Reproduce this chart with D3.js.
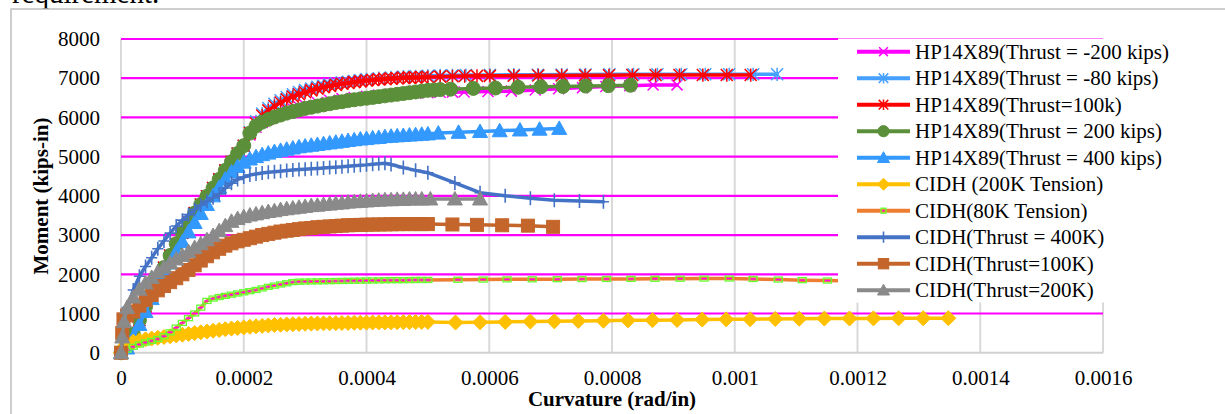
<!DOCTYPE html>
<html>
<head>
<meta charset="utf-8">
<script src="https://cdn.jsdelivr.net/npm/d3@7"></script>
<style>
  body { margin: 0; background: #fff; }
  svg { display: block; font-family: "Liberation Serif", "Times New Roman", serif; }
</style>
</head>
<body>
<svg id="chart" width="1225" height="414"></svg>
<script>
// ---------- data (curvature rad/in, moment kips-in) ----------
const xTicks = [0, 0.0002, 0.0004, 0.0006, 0.0008, 0.001, 0.0012, 0.0014, 0.0016];
const xTickLabels = ["0", "0.0002", "0.0004", "0.0006", "0.0008", "0.001", "0.0012", "0.0014", "0.0016"];
const yTicks = [0, 1000, 2000, 3000, 4000, 5000, 6000, 7000, 8000];

const seriesNames = [
  "HP14X89(Thrust = -200 kips)",
  "HP14X89(Thrust = -80 kips)",
  "HP14X89(Thrust=100k)",
  "HP14X89(Thrust = 200 kips)",
  "HP14X89(Thrust = 400 kips)",
  "CIDH (200K Tension)",
  "CIDH(80K Tension)",
  "CIDH(Thrust = 400K)",
  "CIDH(Thrust=100K)",
  "CIDH(Thrust=200K)"
];

// elastic branch shared by the HP14X89 runs
const hpElastic = [[0,0],[1e-5,150],[2e-5,480],[3e-5,830],[4e-5,1180],[5e-5,1520],[6e-5,1850],
  [7e-5,2170],[8e-5,2480],[9e-5,2780],[1e-4,3060],[1.1e-4,3320],[1.2e-4,3560],[1.3e-4,3780],
  [1.4e-4,3990],[1.5e-4,4200],[1.6e-4,4420],[1.7e-4,4650],[1.8e-4,4870],[1.9e-4,5080],[2e-4,5280]];

const hpNeg200 = [...hpElastic,
  [2.1e-4,5550],[2.2e-4,5750],[2.3e-4,5870],[2.4e-4,5960],[2.5e-4,6040],[2.6e-4,6110],[2.7e-4,6170],
  [2.8e-4,6220],[2.9e-4,6270],[3e-4,6310],[3.2e-4,6380],[3.4e-4,6440],[3.6e-4,6480],[3.8e-4,6510],
  [4e-4,6540],[4.2e-4,6570],[4.4e-4,6590],[4.6e-4,6610],[4.8e-4,6620],[5e-4,6630],[5.2e-4,6640],
  [5.4e-4,6645],[5.59e-4,6650],[5.98e-4,6660],[6.36e-4,6670],[6.75e-4,6700],[7.13e-4,6730],
  [7.52e-4,6760],[7.9e-4,6790],[8.29e-4,6810],[8.67e-4,6825],[9.06e-4,6830]];

const hpNeg80 = [...hpElastic,
  [2.1e-4,5620],[2.2e-4,5900],[2.3e-4,6100],[2.4e-4,6240],[2.5e-4,6350],[2.6e-4,6440],[2.7e-4,6520],
  [2.8e-4,6590],[2.9e-4,6650],[3e-4,6700],[3.1e-4,6740],[3.2e-4,6780],[3.3e-4,6810],[3.4e-4,6840],
  [3.5e-4,6870],[3.6e-4,6890],[3.7e-4,6910],[3.8e-4,6930],[3.9e-4,6950],[4e-4,6970],[4.2e-4,7000],
  [4.4e-4,7020],[4.6e-4,7040],[4.8e-4,7050],[5e-4,7060],[5.2e-4,7070],[5.4e-4,7075],[5.62e-4,7080],
  [6.01e-4,7085],[6.4e-4,7090],[6.79e-4,7090],[7.18e-4,7095],[7.57e-4,7095],[7.96e-4,7100],
  [8.35e-4,7100],[8.74e-4,7100],[9.13e-4,7100],[9.52e-4,7100],[9.91e-4,7100],[1.03e-3,7100],[1.069e-3,7100]];

const hp100 = [...hpElastic,
  [2.1e-4,5600],[2.2e-4,5850],[2.3e-4,6050],[2.4e-4,6180],[2.5e-4,6290],[2.6e-4,6380],[2.7e-4,6460],
  [2.8e-4,6530],[2.9e-4,6590],[3e-4,6640],[3.1e-4,6690],[3.2e-4,6730],[3.3e-4,6770],[3.4e-4,6800],
  [3.5e-4,6830],[3.6e-4,6860],[3.7e-4,6880],[3.8e-4,6900],[3.9e-4,6920],[4e-4,6940],[4.1e-4,6955],
  [4.2e-4,6970],[4.3e-4,6980],[4.4e-4,6990],[4.5e-4,7000],[4.6e-4,7010],[4.7e-4,7015],[4.8e-4,7020],
  [4.9e-4,7025],[5e-4,7030],[5.2e-4,7040],[5.4e-4,7050],[5.6e-4,7055],
  [5.8e-4,7060],[6.01e-4,7060],[6.4e-4,7065],[6.8e-4,7070],[7.18e-4,7070],[7.56e-4,7075],[7.95e-4,7075],
  [8.33e-4,7080],[8.71e-4,7080],[9.1e-4,7080],[9.48e-4,7080],[9.87e-4,7080],[1.026e-3,7080]];

const hp200 = [...hpElastic,
  [2.1e-4,5600],[2.2e-4,5780],[2.3e-4,5880],[2.4e-4,5950],[2.5e-4,6010],[2.6e-4,6060],[2.7e-4,6110],
  [2.8e-4,6150],[2.9e-4,6190],[3e-4,6230],[3.1e-4,6260],[3.2e-4,6290],[3.3e-4,6320],[3.4e-4,6350],
  [3.5e-4,6380],[3.6e-4,6400],[3.7e-4,6430],[3.8e-4,6450],[3.9e-4,6470],[4e-4,6490],[4.1e-4,6510],
  [4.2e-4,6530],[4.3e-4,6550],[4.4e-4,6570],[4.5e-4,6590],[4.6e-4,6610],[4.7e-4,6630],[4.8e-4,6650],
  [4.9e-4,6670],[5e-4,6690],[5.1e-4,6700],[5.2e-4,6710],[5.37e-4,6720],[5.74e-4,6740],[6.1e-4,6750],
  [6.47e-4,6770],[6.84e-4,6780],[7.2e-4,6790],[7.57e-4,6800],[7.94e-4,6810],[8.3e-4,6820]];

const hp400 = [[0,0],[1e-5,120],[2e-5,400],[3e-5,720],[4e-5,1050],[5e-5,1380],[6e-5,1700],[7e-5,2000],
  [8e-5,2290],[9e-5,2570],[1e-4,2830],[1.1e-4,3080],[1.2e-4,3320],[1.3e-4,3550],[1.4e-4,3780],
  [1.5e-4,4000],[1.6e-4,4220],[1.7e-4,4430],[1.8e-4,4610],[1.9e-4,4750],[2e-4,4860],[2.1e-4,4940],
  [2.2e-4,5000],[2.3e-4,5050],[2.4e-4,5090],[2.5e-4,5130],[2.6e-4,5160],[2.7e-4,5190],[2.8e-4,5220],
  [2.9e-4,5250],[3e-4,5270],[3.1e-4,5290],[3.2e-4,5310],[3.3e-4,5330],[3.4e-4,5350],[3.5e-4,5370],
  [3.6e-4,5390],[3.7e-4,5410],[3.8e-4,5430],[3.9e-4,5450],[4e-4,5460],[4.1e-4,5480],[4.2e-4,5490],
  [4.3e-4,5510],[4.4e-4,5520],[4.5e-4,5530],[4.6e-4,5540],[4.7e-4,5550],[4.8e-4,5560],[4.9e-4,5570],
  [5e-4,5580],[5.17e-4,5600],[5.5e-4,5620],[5.85e-4,5640],[6.17e-4,5660],[6.5e-4,5680],[6.82e-4,5700],
  [7.14e-4,5720]];

const cidhTen200 = [[0,0],[5e-6,150],[1e-5,230],[2e-5,280],[3e-5,310],[4e-5,340],[5e-5,360],[6e-5,380],
  [7e-5,400],[8e-5,420],[9e-5,440],[1e-4,460],[1.1e-4,480],[1.2e-4,500],[1.3e-4,520],[1.4e-4,540],
  [1.5e-4,560],[1.6e-4,580],[1.7e-4,600],[1.8e-4,615],[1.9e-4,630],[2e-4,645],[2.1e-4,660],[2.2e-4,672],
  [2.3e-4,684],[2.4e-4,695],[2.5e-4,705],[2.6e-4,712],[2.7e-4,720],[2.8e-4,726],[2.9e-4,732],[3e-4,738],
  [3.1e-4,742],[3.2e-4,745],[3.3e-4,748],[3.4e-4,751],[3.5e-4,754],[3.6e-4,757],[3.7e-4,760],[3.8e-4,762],
  [3.9e-4,765],[4e-4,767],[4.1e-4,769],[4.2e-4,771],[4.3e-4,773],[4.4e-4,775],[4.5e-4,777],[4.6e-4,779],
  [4.7e-4,780],[4.8e-4,782],[4.9e-4,784],[5e-4,786],[5.45e-4,770],[5.85e-4,775],[6.26e-4,785],
  [6.67e-4,795],[7.06e-4,800],[7.45e-4,810],[7.86e-4,815],[8.26e-4,825],[8.66e-4,830],[9.06e-4,835],
  [9.47e-4,845],[9.86e-4,850],[1.025e-3,855],[1.066e-3,860],[1.105e-3,865],[1.146e-3,870],[1.187e-3,872],
  [1.226e-3,875],[1.267e-3,877],[1.307e-3,878],[1.348e-3,880]];

const cidhTen80 = [[0,0],[1e-5,80],[2e-5,150],[3e-5,210],[4e-5,260],[5e-5,300],[6e-5,350],[7e-5,420],
  [8e-5,520],[9e-5,640],[1e-4,760],[1.1e-4,880],[1.2e-4,1000],[1.3e-4,1150],[1.4e-4,1320],[1.5e-4,1380],
  [1.6e-4,1420],[1.7e-4,1450],[1.8e-4,1480],[1.9e-4,1510],[2e-4,1540],[2.1e-4,1570],[2.2e-4,1600],
  [2.3e-4,1640],[2.4e-4,1680],[2.5e-4,1710],[2.6e-4,1740],[2.7e-4,1770],[2.8e-4,1800],[2.9e-4,1810],
  [3e-4,1815],[3.1e-4,1818],[3.2e-4,1820],[3.3e-4,1822],[3.4e-4,1825],[3.5e-4,1828],[3.6e-4,1830],
  [3.7e-4,1832],[3.8e-4,1835],[3.9e-4,1838],[4e-4,1840],[4.1e-4,1842],[4.2e-4,1845],[4.3e-4,1848],
  [4.4e-4,1850],[4.5e-4,1850],[4.6e-4,1850],[4.7e-4,1852],[4.8e-4,1855],[4.9e-4,1855],
  [5e-4,1855],[5.49e-4,1860],[5.9e-4,1865],[6.29e-4,1870],
  [6.7e-4,1872],[7.11e-4,1875],[7.51e-4,1878],[7.91e-4,1880],[8.31e-4,1882],[8.7e-4,1885],[9.11e-4,1887],
  [9.5e-4,1890],[9.91e-4,1892],[1.03e-3,1880],[1.071e-3,1865],[1.11e-3,1850],[1.151e-3,1840],[1.19e-3,1830]];

const cidh400 = [[0,0],[5e-6,700],[1e-5,1150],[2e-5,1600],[3e-5,1950],[4e-5,2200],[5e-5,2420],[6e-5,2650],
  [7e-5,2850],[8e-5,3050],[9e-5,3230],[1e-4,3380],[1.1e-4,3520],[1.2e-4,3650],[1.3e-4,3760],[1.4e-4,3860],
  [1.5e-4,3950],[1.6e-4,4050],[1.7e-4,4200],[1.8e-4,4320],[1.9e-4,4420],[2e-4,4480],[2.1e-4,4530],
  [2.2e-4,4560],[2.3e-4,4580],[2.4e-4,4600],[2.5e-4,4615],[2.6e-4,4630],[2.7e-4,4645],[2.8e-4,4660],
  [2.9e-4,4670],[3e-4,4680],[3.1e-4,4690],[3.2e-4,4700],[3.3e-4,4710],[3.4e-4,4720],[3.5e-4,4730],
  [3.6e-4,4740],[3.7e-4,4755],[3.8e-4,4770],[3.9e-4,4780],[4e-4,4790],[4.1e-4,4805],[4.2e-4,4820],
  [4.3e-4,4830],[4.4e-4,4800],[4.6e-4,4720],[4.8e-4,4650],[5e-4,4590],[5.44e-4,4330],[5.85e-4,4080],
  [6.26e-4,4000],[6.67e-4,3940],[7.06e-4,3890],[7.47e-4,3870],[7.86e-4,3850]];

const cidh100 = [[0,0],[2e-6,500],[4e-6,850],[1e-5,950],[2e-5,1050],[3e-5,1200],[4e-5,1340],[5e-5,1470],
  [6e-5,1590],[7e-5,1700],[8e-5,1800],[9e-5,1900],[1e-4,2000],[1.1e-4,2110],[1.2e-4,2230],[1.3e-4,2350],
  [1.4e-4,2460],[1.5e-4,2560],[1.6e-4,2650],[1.7e-4,2730],[1.8e-4,2790],[1.9e-4,2840],[2e-4,2880],
  [2.1e-4,2920],[2.2e-4,2960],[2.3e-4,3000],[2.4e-4,3030],[2.5e-4,3060],[2.6e-4,3090],[2.7e-4,3110],
  [2.8e-4,3130],[2.9e-4,3150],[3e-4,3170],[3.1e-4,3180],[3.2e-4,3200],[3.3e-4,3210],[3.4e-4,3220],
  [3.5e-4,3230],[3.6e-4,3240],[3.7e-4,3250],[3.8e-4,3255],[3.9e-4,3260],[4e-4,3265],[4.1e-4,3268],
  [4.2e-4,3270],[4.3e-4,3272],[4.4e-4,3275],[4.5e-4,3278],[4.6e-4,3280],[4.7e-4,3280],[4.8e-4,3280],
  [4.9e-4,3280],[5e-4,3280],[5.4e-4,3270],[5.8e-4,3260],[6.21e-4,3250],
  [6.63e-4,3240],[7.04e-4,3210]];

const cidh200 = [[0,0],[2e-6,400],[5e-6,800],[1e-5,1150],[2e-5,1420],[3e-5,1620],[4e-5,1780],[5e-5,1920],
  [6e-5,2060],[7e-5,2180],[8e-5,2290],[9e-5,2390],[1e-4,2480],[1.1e-4,2580],[1.2e-4,2680],[1.3e-4,2780],
  [1.4e-4,2880],[1.5e-4,2990],[1.6e-4,3110],[1.7e-4,3240],[1.8e-4,3350],[1.9e-4,3420],[2e-4,3470],
  [2.1e-4,3510],[2.2e-4,3540],[2.3e-4,3570],[2.4e-4,3600],[2.5e-4,3620],[2.6e-4,3650],[2.7e-4,3670],
  [2.8e-4,3690],[2.9e-4,3710],[3e-4,3730],[3.1e-4,3750],[3.2e-4,3760],[3.3e-4,3780],[3.4e-4,3790],
  [3.5e-4,3810],[3.6e-4,3820],[3.7e-4,3840],[3.8e-4,3850],[3.9e-4,3860],[4e-4,3870],[4.1e-4,3880],
  [4.2e-4,3890],[4.3e-4,3900],[4.4e-4,3900],[4.5e-4,3910],[4.6e-4,3910],[4.7e-4,3920],[4.8e-4,3920],
  [4.9e-4,3920],[5.04e-4,3920],[5.44e-4,3920],[5.85e-4,3920]];

const seriesData = [hpNeg200, hpNeg80, hp100, hp200, hp400, cidhTen200, cidhTen80, cidh400, cidh100, cidh200];

// ---------- styles ----------
const seriesStyle = [
  { color: "#FF00FF", marker: "x",        size: 5.5 },
  { color: "#45A0FF", marker: "star",     size: 6 },
  { color: "#FF0000", marker: "star",     size: 6 },
  { color: "#5B8F3A", marker: "circle",   size: 7 },
  { color: "#3399FF", marker: "triangle", size: 7.5 },
  { color: "#FFC000", marker: "diamond",  size: 7.5 },
  { color: "#ED7D31", marker: "dash",     size: 4 },
  { color: "#4472C4", marker: "plus",     size: 7 },
  { color: "#C4662C", marker: "square",   size: 6.5 },
  { color: "#8A8A8A", marker: "triangle", size: 7.5 }
];

const svg = d3.select("#chart");

// page text cut off above the chart + chart frame
svg.append("text").attr("x", 12).attr("y", 3).attr("font-size", 29).attr("fill", "#000")
  .text("requirement.");
svg.append("path").attr("d", "M11,414V9H1225").attr("fill", "none")
  .attr("stroke", "#BFBFBF").attr("stroke-width", 1.5);

const x = d3.scaleLinear().domain([0, 0.0016]).range([121, 1103]);
const y = d3.scaleLinear().domain([0, 8000]).range([352.7, 39]);

// gridlines
svg.append("g").selectAll("line").data(xTicks).enter().append("line")
  .attr("x1", d => x(d)).attr("x2", d => x(d))
  .attr("y1", y(0)).attr("y2", y(8000))
  .attr("stroke", "#D9D9D9").attr("stroke-width", 2);
svg.append("g").selectAll("line").data(yTicks.filter(d => d > 0)).enter().append("line")
  .attr("x1", x(0)).attr("x2", x(0.0016))
  .attr("y1", d => y(d)).attr("y2", d => y(d))
  .attr("stroke", "#FF00FF").attr("stroke-width", 2.2);
svg.append("line").attr("x1", x(0)).attr("x2", x(0.0016)).attr("y1", y(0)).attr("y2", y(0))
  .attr("stroke", "#D0D0D0").attr("stroke-width", 2);

// axes
const xAxis = svg.append("g").attr("transform", `translate(0,${y(0)})`)
  .call(d3.axisBottom(x).tickValues(xTicks).tickSize(0).tickPadding(17)
    .tickFormat((d, i) => xTickLabels[i]));
const yAxis = svg.append("g").attr("transform", `translate(${x(0)},0)`)
  .call(d3.axisLeft(y).tickValues(yTicks).tickSize(0).tickPadding(21).tickFormat(d => d));
[xAxis, yAxis].forEach(a => {
  a.select(".domain").remove();
  a.selectAll("text").attr("font-size", 21).attr("fill", "#000")
    .attr("font-family", '"Liberation Serif", serif');
});

svg.append("text").attr("x", 612).attr("y", 406).attr("text-anchor", "middle")
  .attr("font-size", 21).attr("font-weight", "bold").text("Curvature (rad/in)");
svg.append("text").attr("transform", "translate(48,196) rotate(-90)").attr("text-anchor", "middle")
  .attr("font-size", 21).attr("font-weight", "bold").text("Moment (kips-in)");

// markers
function drawMarker(g, type, s, color) {
  if (type === "circle") {
    g.append("circle").attr("r", s).attr("fill", color).attr("stroke", color);
  } else if (type === "triangle") {
    g.append("path").attr("d", `M0,${-s}L${s},${s*0.8}L${-s},${s*0.8}Z`).attr("fill", color).attr("stroke", color);
  } else if (type === "diamond") {
    g.append("path").attr("d", `M0,${-s}L${s},0L0,${s}L${-s},0Z`).attr("fill", color).attr("stroke", color);
  } else if (type === "square") {
    g.append("rect").attr("x", -s).attr("y", -s).attr("width", 2*s).attr("height", 2*s)
      .attr("fill", color).attr("stroke", color);
  } else if (type === "x") {
    g.append("path").attr("d", `M${-s},${-s}L${s},${s}M${-s},${s}L${s},${-s}`)
      .attr("stroke", color).attr("stroke-width", 1.5).attr("fill", "none");
  } else if (type === "star") {
    g.append("path").attr("d", `M${-s},${-s}L${s},${s}M${-s},${s}L${s},${-s}M0,${-s*1.1}L0,${s*1.1}`)
      .attr("stroke", color).attr("stroke-width", 1.5).attr("fill", "none");
  } else if (type === "plus") {
    g.append("path").attr("d", `M${-s*0.8},0L${s*0.8},0M0,${-s}L0,${s}`)
      .attr("stroke", color).attr("stroke-width", 1.6).attr("fill", "none");
  } else if (type === "dash") {
    g.append("rect").attr("x", -s).attr("y", -2.5).attr("width", 2*s).attr("height", 5)
      .attr("fill", "none").attr("stroke", "#66FF33").attr("stroke-width", 1.3);
    g.append("path").attr("d", `M${-s+1.5},0L${s-1.5},0`).attr("stroke", "#FF00FF").attr("stroke-width", 1.3);
  }
}

const line = d3.line().x(d => x(d[0])).y(d => y(d[1]));

seriesData.forEach((data, i) => {
  const st = seriesStyle[i];
  const g = svg.append("g");
  g.append("path").datum(data).attr("d", line)
    .attr("fill", "none").attr("stroke", st.color).attr("stroke-width", 3.5)
    .attr("stroke-linejoin", "round").attr("stroke-linecap", "round");
  g.selectAll("g.m").data(data).enter().append("g").attr("class", "m")
    .attr("transform", d => `translate(${x(d[0])},${y(d[1])})`)
    .each(function() { drawMarker(d3.select(this), st.marker, st.size, st.color); });
});

// legend
const legend = svg.append("g");
legend.append("rect").attr("x", 838).attr("y", 38.5).attr("width", 347).attr("height", 264).attr("fill", "#fff");
seriesNames.forEach((name, i) => {
  const st = seriesStyle[i];
  const cy = 51.7 + i * 26.5;
  legend.append("line").attr("x1", 857).attr("x2", 910).attr("y1", cy).attr("y2", cy)
    .attr("stroke", st.color).attr("stroke-width", 4);
  const mg = legend.append("g").attr("transform", `translate(883.5,${cy})`);
  drawMarker(mg, st.marker, st.marker === "dash" ? 2.5 : st.size * 0.8, st.color);
  legend.append("text").attr("x", 915).attr("y", cy + 7).attr("font-size", 21).attr("fill", "#000")
    .text(name);
});
</script>
</body>
</html>
